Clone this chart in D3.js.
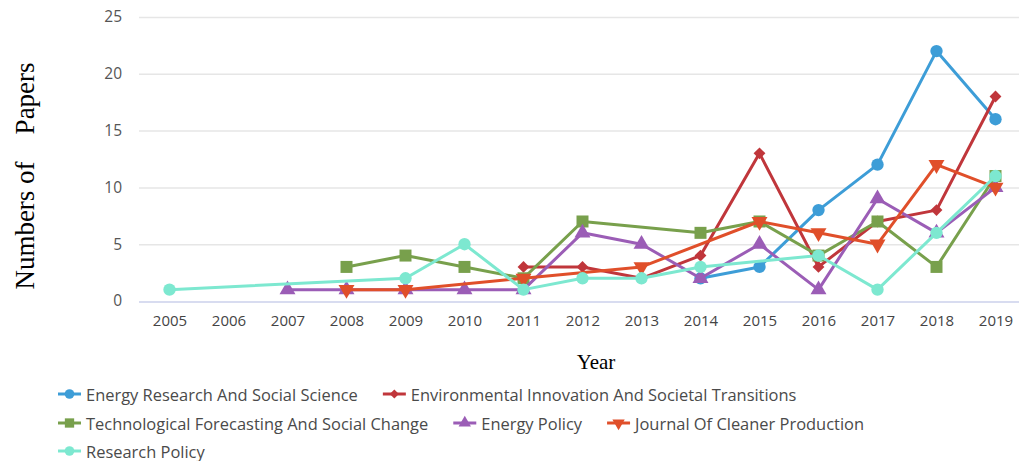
<!DOCTYPE html>
<html><head><meta charset="utf-8">
<script src="https://cdn.jsdelivr.net/npm/d3@7"></script>
<style>body{margin:0;background:#fff}svg{display:block}</style>
</head><body>
<svg id="c" width="1019" height="461"></svg>
<script>
const years = [2005,2006,2007,2008,2009,2010,2011,2012,2013,2014,2015,2016,2017,2018,2019];
const yTicks = [0,5,10,15,20,25];
const seriesNames = [
  "Energy Research And Social Science",
  "Environmental Innovation And Societal Transitions",
  "Technological Forecasting And Social Change",
  "Energy Policy",
  "Journal Of Cleaner Production",
  "Research Policy"
];
const n = null;
const energyResearch   = [n,n,n,n,n,n,n,n,n,2,3,8,12,22,16];
const envInnovation    = [n,n,n,n,n,n,3,3,2,4,13,3,7,8,18];
const techForecasting  = [n,n,n,3,4,3,2,7,n,6,7,4,7,3,11];
const energyPolicy     = [n,n,1,1,1,1,1,6,5,2,5,1,9,6,10];
const cleanerProd      = [n,n,n,1,1,n,2,n,3,n,7,6,5,12,10];
const researchPolicy   = [1,n,n,n,2,5,1,2,2,3,n,4,1,6,11];
const seriesValues = [energyResearch, envInnovation, techForecasting, energyPolicy, cleanerProd, researchPolicy];
const colors = ["#3d9dd7","#c0363b","#78a04c","#9b5db6","#e04f2a","#7de8d0"];
const symbols = [
  {t:d3.symbolCircle, s:120, r:0},
  {t:d3.symbolSquare, s:70, r:45},
  {t:d3.symbolSquare, s:144, r:0},
  {t:d3.symbolTriangle, s:110, r:0},
  {t:d3.symbolTriangle, s:110, r:180},
  {t:d3.symbolCircle, s:120, r:0}
];

const svg = d3.select("#c");
const x = d3.scalePoint().domain(years).range([140,1025]).padding(0.5);
const y = d3.scaleLinear().domain([0,25]).range([301,17]);

// gridlines
svg.append("g").selectAll("line").data(yTicks.filter(d=>d>0)).join("line")
  .attr("x1",139).attr("x2",1019).attr("y1",d=>y(d)+0.5).attr("y2",d=>y(d)+0.5)
  .attr("stroke","#e6e6e6").attr("stroke-width",1.5);
// x axis line
svg.append("line").attr("x1",139).attr("x2",1019).attr("y1",y(0)+1).attr("y2",y(0)+1)
  .attr("stroke","#d8dcf0").attr("stroke-width",2);

// y tick labels
const yAxis = d3.axisLeft(y).tickValues(yTicks).tickSize(0).tickPadding(0);
const ga = svg.append("g").attr("transform","translate(122,0)").call(yAxis);
ga.select(".domain").remove();
ga.selectAll("text").attr("font-family","Open Sans").attr("font-size",15.5).attr("fill","#555");

// x tick labels
const xAxis = d3.axisBottom(x).tickSize(0).tickPadding(0).tickFormat(d3.format("d"));
const gx = svg.append("g").attr("transform","translate(0,315)").call(xAxis);
gx.select(".domain").remove();
gx.selectAll("text").attr("font-family","Open Sans").attr("font-size",15).attr("fill","#444");

// axis titles
svg.append("text").attr("transform","translate(34,176) rotate(-90)")
  .attr("text-anchor","middle").attr("font-family","Liberation Serif").attr("font-size",27)
  .attr("fill","#000").style("white-space","pre").text("Numbers of    Papers");
svg.append("text").attr("x",596).attr("y",369).attr("text-anchor","middle")
  .attr("font-family","Liberation Serif").attr("font-size",21).attr("fill","#000").text("Year");

// series
const line = d3.line().x(d=>x(d.year)).y(d=>y(d.v));
seriesValues.forEach((vals,i)=>{
  const pts = years.map((yr,j)=>({year:yr, v:vals[j]})).filter(d=>d.v!==null);
  const g = svg.append("g");
  g.append("path").attr("d",line(pts)).attr("fill","none").attr("stroke",colors[i])
    .attr("stroke-width",3).attr("stroke-linejoin","round");
  const sym = d3.symbol().type(symbols[i].t).size(symbols[i].s);
  g.selectAll("path.m").data(pts).join("path").attr("class","m")
    .attr("d",sym).attr("fill",colors[i])
    .attr("transform",d=>`translate(${x(d.year)},${y(d.v)}) rotate(${symbols[i].r})`);
});

// legend
const lg = svg.append("g");
const rowsY = [394,423,451];
let lx = 58, row = 0;
const maxX = 960;
const probe = lg.append("text").attr("font-family","Open Sans").attr("font-size",16).text(seriesNames[0]);
const fs = 16*272/probe.node().getComputedTextLength();
probe.remove();
seriesNames.forEach((name,i)=>{
  const t = lg.append("text").attr("font-family","Open Sans").attr("font-size",fs)
    .attr("fill","#4a4a4a").attr("dominant-baseline","central").text(name);
  const w = t.node().getComputedTextLength();
  const itemW = 28 + w;
  if (lx + itemW > maxX) { row++; lx = 58; }
  const cy = rowsY[row];
  t.attr("x",lx+28).attr("y",cy);
  lg.append("line").attr("x1",lx).attr("x2",lx+23).attr("y1",cy).attr("y2",cy)
    .attr("stroke",colors[i]).attr("stroke-width",3);
  const sym = d3.symbol().type(symbols[i].t).size(symbols[i].s*0.6);
  lg.append("path").attr("d",sym).attr("fill",colors[i])
    .attr("transform",`translate(${lx+11.5},${cy}) rotate(${symbols[i].r})`);
  lx += itemW + 25;
});
</script>
</body></html>
